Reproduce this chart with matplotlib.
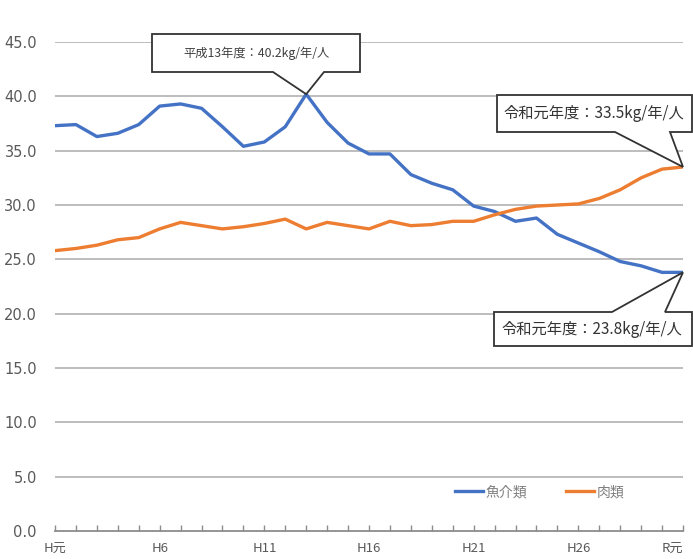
import matplotlib
matplotlib.use("Agg")
import matplotlib.pyplot as plt
from matplotlib.patches import Polygon
import numpy as np

plt.rcParams['font.family'] = ['Noto Sans CJK JP', 'DejaVu Sans']

years = list(range(31))  # H元 (1989) ... R元 (2019)
tick_labels = ["H元", "H6", "H11", "H16", "H21", "H26", "R元"]
tick_pos = [0, 5, 10, 15, 20, 25, 30]

fish = [37.3, 37.4, 36.3, 36.6, 37.4, 39.1, 39.3, 38.9, 37.2, 35.4,
        35.8, 37.2, 40.2, 37.6, 35.7, 34.7, 34.7, 32.8, 32.0, 31.4,
        29.9, 29.4, 28.5, 28.8, 27.3, 26.5, 25.7, 24.8, 24.4, 23.8, 23.8]
meat = [25.8, 26.0, 26.3, 26.8, 27.0, 27.8, 28.4, 28.1, 27.8, 28.0,
        28.3, 28.7, 27.8, 28.4, 28.1, 27.8, 28.5, 28.1, 28.2, 28.5,
        28.5, 29.1, 29.6, 29.9, 30.0, 30.1, 30.6, 31.4, 32.5, 33.3, 33.5]

series_names = ["魚介類", "肉類"]
ann1 = "平成13年度：40.2kg/年/人"
ann2 = "令和元年度：33.5kg/年/人"
ann3 = "令和元年度：23.8kg/年/人"

W, H = 693, 559
fig = plt.figure(figsize=(W / 100, H / 100), dpi=100)
ax = fig.add_axes([55 / W, 28 / H, 628 / W, 489 / H])

grid_c = '#b8b8b8'
txt_c = '#595959'

ax.plot(years, fish, color='#4472C4', lw=2.4, label=series_names[0], solid_joinstyle='round')
ax.plot(years, meat, color='#ED7D31', lw=2.4, label=series_names[1], solid_joinstyle='round')

ax.set_xlim(0, 30)
ax.set_ylim(0, 45)
ax.set_yticks(np.arange(0, 45.1, 5))
ax.set_yticklabels([f"{v:.1f}" for v in np.arange(0, 45.1, 5)])
for y in np.arange(5, 45.1, 5):
    ax.axhline(y, color=grid_c, lw=1.3, zorder=0)

for s in ['top', 'right', 'left']:
    ax.spines[s].set_visible(False)
ax.spines['bottom'].set_color('#8c8c8c')
ax.spines['bottom'].set_linewidth(1.3)

ax.set_xticks(tick_pos)
ax.set_xticklabels(tick_labels)
ax.set_xticks(years, minor=True)
ax.tick_params(axis='x', which='both', direction='in', length=4, color='#8c8c8c', width=1.0,
               labelsize=9.5, labelcolor=txt_c, pad=8)
ax.tick_params(axis='y', length=0, labelsize=10.5, labelcolor=txt_c, pad=13)
for lbl in ax.get_yticklabels():
    lbl.set_family(['DejaVu Sans'])
xl = ax.get_xticklabels()
xl[-1].set_ha('right')

leg = ax.legend(loc='center', bbox_to_anchor=(540 / W, 1 - 492 / H), bbox_transform=fig.transFigure,
                ncol=2, frameon=False, fontsize=10, handlelength=2.0, handletextpad=0.2,
                columnspacing=2.8)
for t in leg.get_texts():
    t.set_color('#7f7f7f')

fig.canvas.draw()

def px(x, y):
    return (x / W, 1 - y / H)

def tip(xv, yv):
    d = ax.transData.transform((xv, yv))
    return tuple(fig.transFigure.inverted().transform(d))

def callout(verts):
    p = Polygon(verts, closed=True, transform=fig.transFigure, facecolor='white',
                edgecolor='#333333', lw=1.3, zorder=10)
    fig.patches.append(p)

# box 1 (peak fish)
t1 = tip(12, fish[12])
callout([px(152, 34), px(360, 34), px(360, 72), px(324, 72), t1, px(273, 72), px(152, 72)])
fig.text(256 / W, 1 - 53 / H, ann1, ha='center', va='center', fontsize=8.8, color='#404040', zorder=11)

# box 2 (meat R元)
t2 = tip(30, meat[30])
callout([px(497, 95), px(692, 95), px(692, 132), px(670, 132), t2, px(615, 132), px(497, 132)])
fig.text(594 / W, 1 - 114 / H, ann2, ha='center', va='center', fontsize=11, color='#333333', zorder=11)

# box 3 (fish R元)
t3 = tip(30, fish[30])
callout([px(494, 312), px(612, 312), t3, px(665, 312), px(692, 312), px(692, 346), px(494, 346)])
fig.text(592 / W, 1 - 330 / H, ann3, ha='center', va='center', fontsize=11, color='#333333', zorder=11)

fig.savefig("out.png", dpi=100, facecolor='white')
